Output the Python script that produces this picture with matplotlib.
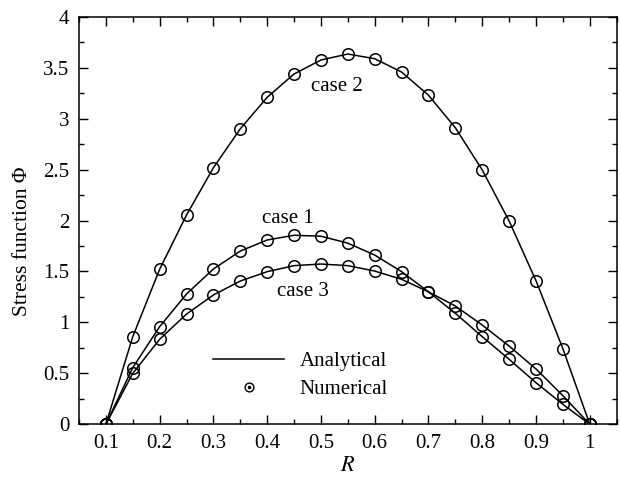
"""
Stress function profiles along R: analytical curves vs numerical points
"""
import numpy as np
import matplotlib.pyplot as plt
from matplotlib.lines import Line2D
from matplotlib.ticker import MultipleLocator

plt.rcParams['font.family'] = ['Liberation Serif', 'DejaVu Serif']
plt.rcParams['mathtext.fontset'] = 'stix'

# radial positions
R = [0.1, 0.15, 0.2, 0.25, 0.3, 0.35, 0.4, 0.45, 0.5, 0.55,
     0.6, 0.65, 0.7, 0.75, 0.8, 0.85, 0.9, 0.95, 1.0]

# stress function values for the three cases
phi_case1 = [0.0, 0.556, 0.958, 1.279, 1.524, 1.700, 1.809, 1.855, 1.846, 1.778,
             1.661, 1.498, 1.300, 1.161, 0.974, 0.768, 0.543, 0.281, 0.0]
phi_case2 = [0.0, 0.860, 1.521, 2.054, 2.518, 2.900, 3.209, 3.438, 3.575, 3.634,
             3.588, 3.457, 3.230, 2.910, 2.496, 1.995, 1.409, 0.742, 0.0]
phi_case3 = [0.0, 0.500, 0.834, 1.082, 1.269, 1.406, 1.498, 1.557, 1.573, 1.557,
             1.504, 1.423, 1.300, 1.089, 0.860, 0.638, 0.408, 0.196, 0.0]

fig = plt.figure(figsize=(6.21, 4.82), dpi=100)
ax = fig.add_axes([0.1272, 0.1197, 0.993 - 0.1272, 0.9653 - 0.1197])

for phi in (phi_case1, phi_case2, phi_case3):
    ax.plot(R, phi, color='black', linewidth=1.1)
    ax.plot(R, phi, linestyle='none', marker='o', markersize=8.3,
            markerfacecolor='none', markeredgecolor='black', markeredgewidth=1.1)

ax.text(0.529, 3.32, 'case 2', fontsize=15, ha='center', va='center')
ax.text(0.4385, 2.02, 'case 1', fontsize=15, ha='center', va='center')
ax.text(0.467, 1.30, 'case 3', fontsize=15, ha='center', va='center')

# legend: solid line and a dotted circle
h_line = Line2D([], [], color='black', linewidth=1.1)
h_circ = Line2D([], [], linestyle='none', marker='o', markersize=6.3,
                markerfacecolor='none', markeredgecolor='black', markeredgewidth=1.0)
h_dot = Line2D([], [], linestyle='none', marker='o', markersize=1.6,
               color='black')
ax.legend([h_line, (h_circ, h_dot)], ['Analytical', 'Numerical'],
          loc='upper left', bbox_to_anchor=(0.215, 0.225), frameon=False,
          fontsize=15, handlelength=3.4, handletextpad=0.75, labelspacing=0.42)

ax.set_xlim(0.05, 1.05)
ax.set_ylim(0, 4)
ax.xaxis.set_major_locator(MultipleLocator(0.1))
ax.xaxis.set_minor_locator(MultipleLocator(0.05))
ax.yaxis.set_major_locator(MultipleLocator(0.5))
ax.yaxis.set_minor_locator(MultipleLocator(0.25))
ax.set_xticks([0.1, 0.2, 0.3, 0.4, 0.5, 0.6, 0.7, 0.8, 0.9, 1.0])
ax.set_xticklabels(['0.1', '0.2', '0.3', '0.4', '0.5', '0.6', '0.7', '0.8', '0.9', '1'])
ax.set_yticks([0, 0.5, 1, 1.5, 2, 2.5, 3, 3.5, 4])
ax.set_yticklabels(['0', '0.5', '1', '1.5', '2', '2.5', '3', '3.5', '4'])
ax.tick_params(which='both', direction='in', top=True, right=True, labelsize=15, width=1.0)
ax.tick_params(which='major', length=6.5, pad=7)
ax.tick_params(which='minor', length=3.5)
for sp in ax.spines.values():
    sp.set_linewidth(1.1)

ax.set_xlabel('$R$', fontsize=16, labelpad=3)
ax.set_ylabel('Stress function Φ', fontsize=15.5)
ax.yaxis.set_label_coords(-0.088, 0.45)

fig.savefig('out.png', dpi=100)
